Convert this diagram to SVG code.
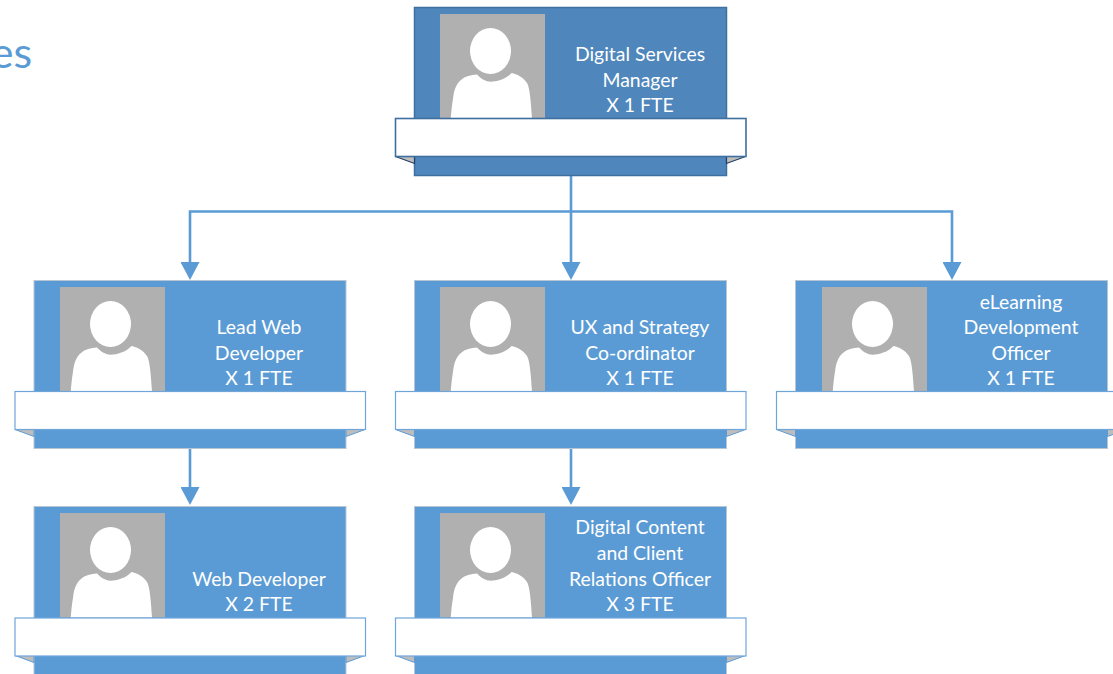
<svg xmlns="http://www.w3.org/2000/svg" width="1113" height="674" viewBox="0 0 1113 674">
<style>
text{font-family:Lato,"Liberation Sans",sans-serif}
.t{font-size:19.4px;fill:#fff;text-anchor:middle}
.c{fill:none;stroke:#5b9bd5;stroke-width:2.6}
.box{fill:#5b9bd5;stroke:#b8c6d4;stroke-width:1}
.band{fill:#fff;stroke:#6ea6da;stroke-width:1.2}
.fold{fill:#bdbdbd;stroke:#5b9bd5;stroke-width:1}
.box2{fill:#4f86bb;stroke:#3f70a0;stroke-width:1.5}
.band2{fill:#fff;stroke:#3f6f9e;stroke-width:1.6}
.fold2{fill:#bdbdbd;stroke:#1f3f63;stroke-width:1.2}
</style>
<defs>
<marker id="a" markerUnits="userSpaceOnUse" markerWidth="18" markerHeight="19" refX="10" refY="9.500" orient="auto" viewBox="0 0 18 19"><path d="M0 0L18 9.500L0 19Z" fill="#5b9bd5"/></marker>
<g id="photo">
<rect width="105" height="104.500" fill="#b0b0b0"/>
<ellipse cx="50.500" cy="37" rx="20.500" ry="23" fill="#fff"/>
<path d="M10.700 104.500C11.500 96 12 90 13 85C14 76 16 70 21 66C25 62 31 61 37 60.500C41 65 46 67.700 50.500 67.700C57 67.700 66 65 71.500 59C77 60 83 63 87 69C90 74 91 90 92 104.500Z" fill="#fff"/>
</g>
<g id="card">
<rect class="box" width="312" height="168"/>
<path class="fold" d="M-19 149L0 156V149Z"/>
<path class="fold" d="M331 149L312 156V149Z"/>
</g>
</defs>

<text x="32" y="68" font-size="43" fill="#5b9bd5" text-anchor="end">es</text>

<g id="connectors">
<path class="c" d="M571 176V272" marker-end="url(#a)"/>
<path class="c" d="M571 211.500H190V272" marker-end="url(#a)"/>
<path class="c" d="M571 211.500H952V272" marker-end="url(#a)"/>
<path class="c" d="M190 448V497" marker-end="url(#a)"/>
<path class="c" d="M571 448V497" marker-end="url(#a)"/>
</g>

<g id="node-manager" transform="translate(414.500,7.500)">
<rect class="box2" width="312" height="168"/>
<path class="fold2" d="M-19 149L0 156V149Z"/>
<path class="fold2" d="M331 149L312 156V149Z"/>
<use href="#photo" x="25.500" y="6.500"/>
<rect class="band2" x="-19" y="111" width="350.500" height="38"/>
<text class="t" x="225.500" y="53.500">Digital Services</text>
<text class="t" x="225.500" y="79">Manager</text>
<text class="t" x="225.500" y="104.500">X 1 FTE</text>
</g>

<g id="node-lead" transform="translate(34,280.500)">
<use href="#card"/>
<use href="#photo" x="26" y="6.500"/>
<rect class="band" x="-19" y="111" width="350.500" height="38"/>
<text class="t" x="225" y="53.500">Lead Web</text>
<text class="t" x="225" y="79">Developer</text>
<text class="t" x="225" y="104.500">X 1 FTE</text>
</g>

<g id="node-ux" transform="translate(414.500,280.500)">
<use href="#card"/>
<use href="#photo" x="25.500" y="6.500"/>
<rect class="band" x="-19" y="111" width="350.500" height="38"/>
<text class="t" x="225.500" y="53.500">UX and Strategy</text>
<text class="t" x="225.500" y="79">Co-ordinator</text>
<text class="t" x="225.500" y="104.500">X 1 FTE</text>
</g>

<g id="node-elearning" transform="translate(795.500,280.500)">
<use href="#card"/>
<use href="#photo" x="26.500" y="6.500"/>
<rect class="band" x="-19" y="111" width="350.500" height="38"/>
<text class="t" x="225.500" y="28">eLearning</text>
<text class="t" x="225.500" y="53.500">Development</text>
<text class="t" x="225.500" y="79">Officer</text>
<text class="t" x="225.500" y="104.500">X 1 FTE</text>
</g>

<g id="node-web" transform="translate(34,506.500)">
<use href="#card"/>
<use href="#photo" x="26" y="6.500"/>
<rect class="band" x="-19" y="111.500" width="350.500" height="38"/>
<text class="t" x="225" y="79">Web Developer</text>
<text class="t" x="225" y="104.500">X 2 FTE</text>
</g>

<g id="node-content" transform="translate(414.500,506.500)">
<use href="#card"/>
<use href="#photo" x="25.500" y="6.500"/>
<rect class="band" x="-19" y="111.500" width="350.500" height="38"/>
<text class="t" x="225.500" y="27.500">Digital Content</text>
<text class="t" x="225.500" y="53">and Client</text>
<text class="t" x="225.500" y="79">Relations Officer</text>
<text class="t" x="225.500" y="104.500">X 3 FTE</text>
</g>
</svg>
